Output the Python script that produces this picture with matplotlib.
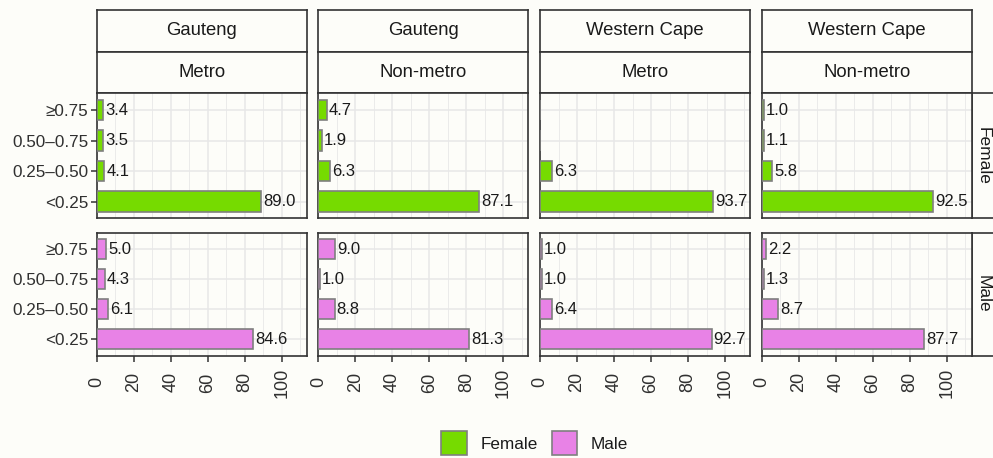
import numpy as np
import matplotlib
matplotlib.use("Agg")
from matplotlib import pyplot as plt
from matplotlib.patches import Patch

plt.rcParams['font.family'] = ['Liberation Sans', 'DejaVu Sans']

# categories top to bottom
bands = ["≥0.75", "0.50–0.75", "0.25–0.50", "<0.25"]
provinces = ["Gauteng", "Gauteng", "Western Cape", "Western Cape"]
areas = ["Metro", "Non-metro", "Metro", "Non-metro"]
sexes = ["Female", "Male"]

# percentages per facet, same order as bands (nan = no bar)
female_gp_metro = [3.4, 3.5, 4.1, 89.0]
female_gp_nonmetro = [4.7, 1.9, 6.3, 87.1]
female_wc_metro = [np.nan, np.nan, 6.3, 93.7]
female_wc_nonmetro = [1.0, 1.1, 5.8, 92.5]
male_gp_metro = [5.0, 4.3, 6.1, 84.6]
male_gp_nonmetro = [9.0, 1.0, 8.8, 81.3]
male_wc_metro = [1.0, 1.0, 6.4, 92.7]
male_wc_nonmetro = [2.2, 1.3, 8.7, 87.7]

values = {
    "Female": [female_gp_metro, female_gp_nonmetro, female_wc_metro, female_wc_nonmetro],
    "Male": [male_gp_metro, male_gp_nonmetro, male_wc_metro, male_wc_nonmetro],
}
fills = {"Female": "#76DB00", "Male": "#E882E6"}

W, H = 993, 458
bg = "#FDFDF9"
border = "#333333"
txt = "#1A1A1A"

fig = plt.figure(figsize=(W / 100, H / 100), dpi=100, facecolor=bg)


def box(l, t, r, b):
    return [l / W, 1 - b / H, (r - l) / W, (b - t) / H]


col_left = [96.7, 318.3, 540.0, 761.7]
col_w = 210.0
rows = [(93.3, 218.3), (232.5, 356.0)]
ypos = np.arange(len(bands))[::-1]


def strip(rect, label, rotation=0, size=13.3):
    s = fig.add_axes(rect)
    s.set_facecolor(bg)
    s.set_xticks([])
    s.set_yticks([])
    for sp in s.spines.values():
        sp.set_color(border)
        sp.set_linewidth(1.2)
    s.text(0.5, 0.5, label, transform=s.transAxes, ha="center", va="center",
           fontsize=size, color=txt, rotation=rotation)
    return s


for j in range(4):
    l = col_left[j]
    strip(box(l, 10, l + col_w, 51.7), provinces[j])
    strip(box(l, 51.7, l + col_w, 93.3), areas[j])

for i, sex in enumerate(sexes):
    top, bot = rows[i]
    # row strip runs to the right edge of the figure
    strip(box(971.7, top, 994, bot), sex, rotation=-90, size=12.5)
    for j in range(4):
        l = col_left[j]
        ax = fig.add_axes(box(l, top, l + col_w, bot))
        ax.set_facecolor(bg)
        vals = np.array(values[sex][j], dtype=float)
        ax.barh(ypos, np.nan_to_num(vals), height=0.66, color=fills[sex],
                edgecolor="#7F7F7F", linewidth=1.2, zorder=3)
        for y, v in zip(ypos, vals):
            if np.isnan(v):
                continue
            ax.annotate(f"{v:.1f}", (v, y), xytext=(1.5, 0), textcoords="offset points",
                        ha="left", va="center", fontsize=12, color=txt, zorder=4)
        ax.set_xlim(0, 113.5)
        ax.set_ylim(-0.55, 3.55)
        ax.set_xticks(np.arange(0, 101, 20))
        ax.set_xticks(np.arange(10, 113, 20), minor=True)
        ax.set_yticks(ypos)
        ax.grid(which="major", color="#E8E8E8", linewidth=1.1, zorder=0)
        ax.grid(which="minor", axis="x", color="#E8E8E8", linewidth=0.6, zorder=0)
        ax.set_axisbelow(True)
        for sp in ax.spines.values():
            sp.set_color(border)
            sp.set_linewidth(1.2)
        ax.tick_params(which="minor", length=0)
        ax.tick_params(axis="both", which="major", length=4, width=1.1, color=border,
                       labelcolor="#303030", labelsize=12.3)
        if j == 0:
            ax.set_yticklabels(bands)
            ax.tick_params(axis="y", pad=2)
        else:
            ax.tick_params(axis="y", length=0, labelleft=False)
        if i == 1:
            ax.set_xticklabels([str(t) for t in range(0, 101, 20)], rotation=90,
                               va="center", fontsize=13)
            ax.tick_params(axis="x", pad=15)
        else:
            ax.tick_params(axis="x", length=0, labelbottom=False)

handles = [Patch(facecolor=fills[s], edgecolor="#7F7F7F", linewidth=1.2, label=s) for s in sexes]
fig.legend(handles=handles, loc="center", bbox_to_anchor=(535 / W, 1 - 443 / H), ncol=2,
           frameon=False, fontsize=12.3, handlelength=1.5, handleheight=1.7,
           handletextpad=0.8, columnspacing=0.8, labelcolor=txt)

fig.savefig("out.png", dpi=100, facecolor=bg)
